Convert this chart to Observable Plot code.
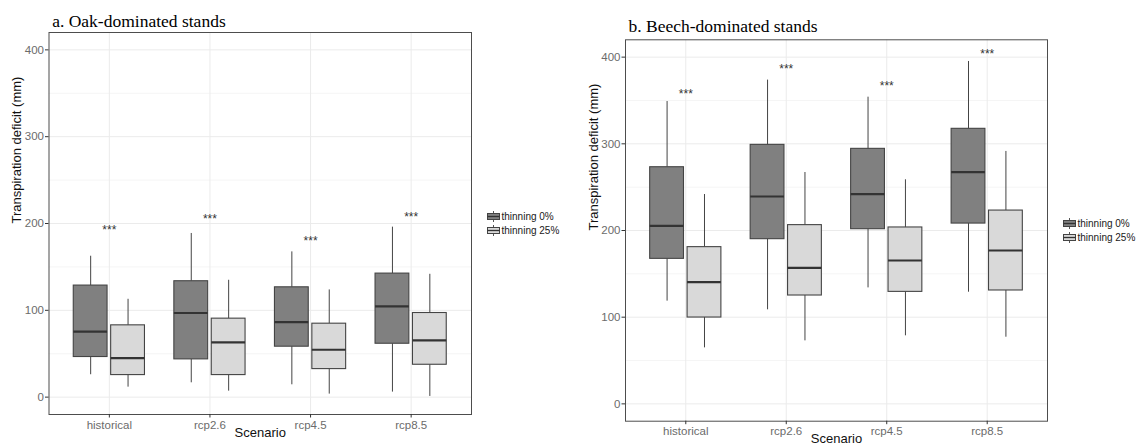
<!DOCTYPE html>
<html><head><meta charset="utf-8">
<script src="https://cdn.jsdelivr.net/npm/d3@7"></script>
<script src="https://cdn.jsdelivr.net/npm/@observablehq/plot@0.6"></script>
<style>
html,body{margin:0;padding:0;background:#fff;}
#wrap{position:relative;width:1145px;height:446px;overflow:hidden;background:#fff;font-family:"Liberation Sans",Arial,sans-serif;}
.panel{position:absolute;top:0;}
.legend{position:absolute;font-size:10px;color:#1a1a1a;}
.legend .row{position:absolute;left:0;display:flex;align-items:center;white-space:nowrap;height:14px;}
.legend svg{margin-right:1.5px;display:block;}
</style></head><body><div id="wrap"></div>
<script>
// ---- categories ----
const scenarios = ["historical", "rcp2.6", "rcp4.5", "rcp8.5"];
const treatments = ["thinning 0%", "thinning 25%"];
const starLabels = ["***", "***", "***", "***"];

// ---- a. Oak-dominated stands ----
const oakLow0   = [25.8, 16.5, 14.2, 5.8];
const oakQ1_0   = [46.2, 43.5, 58.1, 61.5];
const oakMed0   = [75.4, 96.9, 86.5, 104.6];
const oakQ3_0   = [128.5, 133.5, 126.5, 142.3];
const oakHigh0  = [162.3, 188.5, 167.3, 195.8];
const oakLow25  = [11.5, 6.9, 3.5, 0.8];
const oakQ1_25  = [25.4, 25.4, 32.3, 37.3];
const oakMed25  = [45.0, 63.1, 54.6, 65.4];
const oakQ3_25  = [82.7, 90.4, 84.6, 96.9];
const oakHigh25 = [112.7, 134.6, 123.5, 141.5];
const oakStars  = [192, 205, 180, 207];

// ---- b. Beech-dominated stands ----
const beechLow0   = [118.5, 108.5, 133.8, 128.8];
const beechQ1_0   = [167.3, 190.0, 201.5, 208.0];
const beechMed0   = [205.4, 239.2, 241.9, 267.3];
const beechQ3_0   = [273.0, 298.8, 294.2, 317.3];
const beechHigh0  = [348.8, 373.5, 353.8, 395.0];
const beechLow25  = [64.6, 72.7, 78.5, 76.9];
const beechQ1_25  = [99.6, 125.0, 129.2, 130.8];
const beechMed25  = [140.4, 156.9, 165.4, 176.9];
const beechQ3_25  = [180.8, 206.2, 203.5, 223.0];
const beechHigh25 = [241.5, 266.9, 258.5, 291.2];
const beechStars  = [357, 386, 367, 403];

const yTicks = [0, 100, 200, 300, 400];
const yMinor = [50, 150, 250, 350];
const fills = {"thinning 0%": "#808080", "thinning 25%": "#d9d9d9"};

function makeRows(low, q1, med, q3, high, treatment) {
  return scenarios.map((s, i) => ({scenario: s, treatment, low: low[i], q1: q1[i], med: med[i], q3: q3[i], high: high[i]}));
}
function makeStars(ys) {
  return scenarios.map((s, i) => ({scenario: s, y: ys[i], label: starLabels[i]}));
}

const oakRows = [
  ...makeRows(oakLow0, oakQ1_0, oakMed0, oakQ3_0, oakHigh0, treatments[0]),
  ...makeRows(oakLow25, oakQ1_25, oakMed25, oakQ3_25, oakHigh25, treatments[1])
];
const beechRows = [
  ...makeRows(beechLow0, beechQ1_0, beechMed0, beechQ3_0, beechHigh0, treatments[0]),
  ...makeRows(beechLow25, beechQ1_25, beechMed25, beechQ3_25, beechHigh25, treatments[1])
];

function panel(o) {
  const step = (o.width - o.marginLeft - o.marginRight) / 4.2;
  const half = step / 2, gap = 1.8, boxW = 33.8;
  const line = "#444";
  const boxMarks = (t, inL, inR, dx) => {
    const data = o.rows.filter(d => d.treatment === t);
    return [
      Plot.ruleX(data, {x: "scenario", y1: "low", y2: "q1", dx, stroke: line, strokeWidth: 1}),
      Plot.ruleX(data, {x: "scenario", y1: "q3", y2: "high", dx, stroke: line, strokeWidth: 1}),
      Plot.barY(data, {x: "scenario", y1: "q1", y2: "q3", fill: fills[t], stroke: line, strokeWidth: 1.1, insetLeft: inL, insetRight: inR}),
      Plot.tickY(data, {x: "scenario", y: "med", stroke: "#333", strokeWidth: 2.2, insetLeft: inL, insetRight: inR})
    ];
  };
  return Plot.plot({
    width: o.width,
    height: 446,
    marginLeft: o.marginLeft,
    marginRight: o.marginRight,
    marginTop: o.marginTop,
    marginBottom: o.marginBottom,
    style: {fontFamily: '"Liberation Sans", Arial, sans-serif', background: "transparent", overflow: "visible"},
    x: {type: "band", domain: scenarios, paddingInner: 0, paddingOuter: 0.1, round: false, label: null},
    y: {domain: [-20, 420], label: null},
    marks: [
      Plot.gridY(yMinor, {stroke: "#f3f3f3", strokeOpacity: 1, strokeWidth: 0.8}),
      Plot.gridY(yTicks, {stroke: "#ebebeb", strokeOpacity: 1, strokeWidth: 1}),
      Plot.gridX(scenarios, {stroke: "#ebebeb", strokeOpacity: 1, strokeWidth: 1}),
      ...boxMarks(treatments[0], half - gap - boxW, half + gap, -(gap + boxW / 2)),
      ...boxMarks(treatments[1], half + gap, half - gap - boxW, gap + boxW / 2),
      Plot.text(o.stars, {x: "scenario", y: "y", text: "label", fontSize: 12, fill: "#333"}),
      Plot.frame({stroke: "#4d4d4d", strokeWidth: 1}),
      Plot.axisY(yTicks, {tickSize: 3.5, tickPadding: 1.5, fontSize: 11.5, fill: "#6b6b6b", stroke: "#333", label: null}),
      Plot.axisX({tickSize: 3.5, tickPadding: 2.5, fontSize: 11.5, fill: "#6b6b6b", stroke: "#333", label: null}),
      Plot.text(["Transpiration deficit (mm)"], {text: d => d, frameAnchor: "left", rotate: -90, dx: o.yLabelDx, fontSize: 13, fill: "#111"}),
      Plot.text(["Scenario"], {text: d => d, frameAnchor: "bottom", dy: o.xLabelDy, fontSize: 13, fill: "#111"}),
      Plot.text([o.title], {text: d => d, frameAnchor: "top-left", textAnchor: "start", lineAnchor: "bottom", dx: o.titleDx, dy: o.titleDy, fontFamily: '"Liberation Serif", "Times New Roman", serif', fontSize: 17.5, fill: "#000"})
    ]
  });
}

const wrap = document.getElementById("wrap");

const left = panel({rows: oakRows, stars: makeStars(oakStars), title: "a. Oak-dominated stands",
  width: 480, marginLeft: 48.5, marginRight: 9, marginTop: 32, marginBottom: 32,
  titleDx: 3.2, titleDy: -6, yLabelDx: -32.5, xLabelDy: 22.5});
left.classList.add("panel"); left.style.left = "0px";
wrap.appendChild(left);

const right = panel({rows: beechRows, stars: makeStars(beechStars), title: "b. Beech-dominated stands",
  width: 485, marginLeft: 60, marginRight: 3, marginTop: 39.3, marginBottom: 25.3,
  titleDx: 3, titleDy: -7.6, yLabelDx: -32, xLabelDy: 22});
right.classList.add("panel"); right.style.left = "565px";
wrap.appendChild(right);

function legend(x, yCenter) {
  const div = document.createElement("div");
  div.className = "legend";
  div.style.left = x + "px";
  div.style.top = (yCenter - 7) + "px";
  treatments.forEach((t, i) => {
    const row = document.createElement("div");
    row.className = "row";
    row.style.top = (i * 14) + "px";
    row.innerHTML = `<svg width="13" height="11" viewBox="0 0 13 11">
      <line x1="6.5" x2="6.5" y1="0" y2="11" stroke="#555" stroke-width="1"/>
      <rect x="0.5" y="2.5" width="12" height="6" fill="${fills[t]}" stroke="#444" stroke-width="1"/>
      <line x1="0.5" x2="12.5" y1="5.5" y2="5.5" stroke="#333" stroke-width="1.3"/>
    </svg><span>${t}</span>`;
    div.appendChild(row);
  });
  wrap.appendChild(div);
}
legend(487, 216);
legend(1063, 223);
</script>
</body></html>
